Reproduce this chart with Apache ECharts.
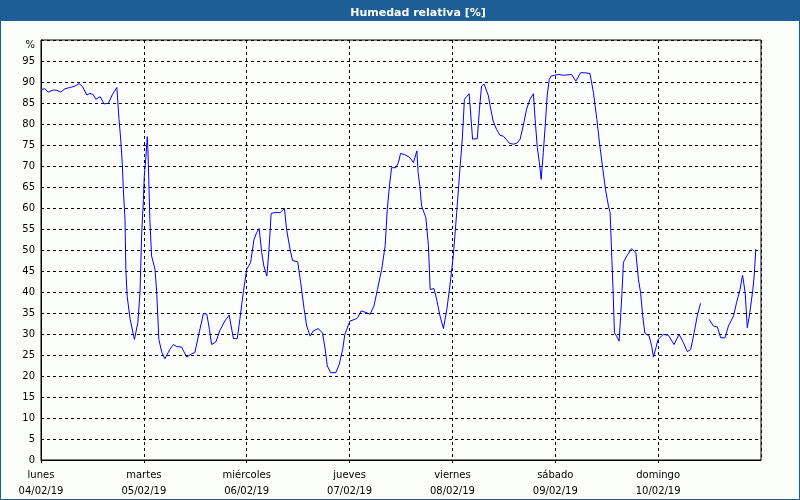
<!DOCTYPE html>
<html><head><meta charset="utf-8">
<script src="https://cdn.jsdelivr.net/npm/echarts@6/dist/echarts.min.js"></script>
<style>html,body{margin:0;padding:0;background:#fcfefc}#c{width:800px;height:500px}</style>
</head><body><div id="c"></div>
<script>
const titleText = 'Humedad relativa [%]';
const dayNames = ['lunes','martes','miércoles','jueves','viernes','sábado','domingo'];
const dayDates = ['04/02/19','05/02/19','06/02/19','07/02/19','08/02/19','09/02/19','10/02/19'];
const yMax = 100;
// hours since 04/02/19 00:00
const hours = [
0,0.9,1.7,2.9,3.7,4.6,5.6,6.8,7.9,8.9,9.7,10.7,11.4,12.2,12.8,13.8,14.7,15.7,16.7,17.7,18.2,18.6,19.0,19.2,19.6,19.8,20.1,20.8,21.8,22.6,23.1,23.5,23.9,
24.1,24.5,24.7,24.8,25.0,25.4,25.8,26.6,27.0,27.5,28.2,28.9,30.1,30.9,31.7,32.8,34.0,35.2,35.9,36.9,37.9,38.7,39.3,39.8,40.8,41.8,42.9,43.9,44.9,45.8,46.4,47.2,
48.0,48.9,49.7,50.3,50.9,51.5,52.0,52.7,53.2,53.7,54.6,55.8,56.8,57.3,58.1,58.7,59.9,60.6,61.4,62.0,62.8,63.5,64.7,65.7,66.3,66.8,67.6,68.8,69.6,70.4,70.9,
72.1,73.3,73.9,74.7,75.6,76.8,77.7,78.5,79.5,80.3,80.8,81.3,81.8,82.8,83.4,83.9,84.9,86.1,86.9,87.7,88.0,88.4,88.8,89.8,90.4,90.8,91.7,92.3,93.1,93.9,94.7,95.4,
96.2,97.0,97.8,98.3,98.8,99.3,99.9,100.3,100.7,101.1,101.8,102.3,102.8,103.4,103.8,104.4,104.8,105.5,106.3,107.1,107.9,108.5,109.3,110.2,111.0,111.8,112.5,113.3,114.1,114.9,115.3,115.8,116.3,116.7,117.2,117.7,118.1,118.6,119.0,119.9,
120.7,121.9,123.8,124.8,125.9,126.9,128.1,128.9,129.7,130.4,131.1,131.7,132.4,132.8,133.2,133.5,133.8,134.3,134.9,135.3,135.6,135.9,136.7,137.8,138.8,139.4,139.9,140.4,140.9,141.9,142.5,142.9,143.5,
144.0,145.2,146.4,147.7,148.9,149.9,150.8,151.6,152.4,153.2,153.9,155.0,155.9,156.9,157.8,158.6,159.6,160.4,161.6,162.3,163.1,163.7,164.3,164.8,165.4,166.1,166.4,166.8
];
const humidity = [
88.2,88.4,87.6,88.1,88.0,87.6,88.4,88.7,89.0,89.6,88.9,86.9,87.3,87.0,85.9,86.5,84.8,84.9,87.1,88.7,81.1,76.4,70.0,64.5,57.3,45.4,39.0,33.5,28.7,32.7,39.9,54.1,62.0,
67.6,72.4,75.6,77.0,72.4,57.3,48.6,45.4,39.9,28.7,25.6,24.1,26.4,27.5,27.0,26.9,24.5,25.3,25.6,30.3,34.9,34.7,31.1,27.5,28.1,31.0,33.1,34.5,28.9,28.9,33.5,39.9,
45.4,47.0,52.5,54.1,55.1,49.4,46.2,43.8,50.2,58.7,58.9,58.9,59.9,54.9,50.2,47.5,47.2,42.2,35.9,31.9,29.5,30.7,31.3,30.2,26.4,22.4,20.8,20.8,22.8,26.4,29.9,
33.1,33.5,33.9,35.5,35.2,34.7,36.7,40.6,45.4,51.0,59.7,65.2,69.6,69.6,70.8,73.0,72.7,72.0,70.8,73.6,68.4,65.2,60.5,57.7,51.0,40.6,40.8,38.3,34.3,31.3,35.9,41.4,
48.6,58.9,70.0,76.4,85.9,86.5,87.2,81.9,76.4,76.2,76.5,83.5,89.0,89.5,89.9,86.7,84.3,80.7,78.7,77.3,77.1,76.4,75.4,75.2,75.4,76.4,79.5,83.5,85.9,87.2,81.1,74.4,70.8,66.8,73.2,80.3,86.7,90.6,91.4,91.6,
91.8,91.6,91.8,90.2,92.2,92.2,92.0,87.5,81.1,74.8,69.2,64.5,60.5,58.9,47.8,39.9,30.3,29.5,28.3,35.1,40.6,47.1,48.6,50.3,49.4,43.0,39.9,34.3,30.2,29.5,27.1,24.5,26.8,
28.7,29.9,29.7,27.5,29.9,27.9,25.8,26.3,30.3,34.7,37.3,null,33.5,31.9,31.7,29.1,29.1,31.9,34.3,37.5,40.6,44.0,39.9,31.5,35.1,40.6,43.8,50.2
];

const data = hours.map((h, i) => [h, humidity[i] === null ? '-' : humidity[i]]);
const chart = echarts.init(document.getElementById('c'), null, {renderer: 'canvas'});
const FONT = 'DejaVu Sans';
const frameColor = '#1d5f95';
chart.setOption({
  backgroundColor: '#fcfefc',
  animation: false,
  title: {
    text: titleText, left: 413, textAlign: 'center', top: 3,
    textStyle: {color: '#ffffff', fontFamily: FONT, fontWeight: 'bold', fontSize: 11}
  },
  graphic: [
    {type: 'rect', z: -1, shape: {x: 0, y: 0, width: 800, height: 21}, style: {fill: frameColor}},
    {type: 'rect', z: 100, shape: {x: 0.5, y: 0.5, width: 799, height: 499}, style: {fill: null, stroke: frameColor, lineWidth: 1}}
  ],
  grid: {left: 41, right: 39, top: 40, bottom: 40, show: true, borderColor: '#000', borderWidth: 1, backgroundColor: 'transparent'},
  xAxis: {
    type: 'value', min: 0, max: 168, interval: 24,
    axisLine: {show: true, lineStyle: {color: '#000', width: 1}},
    axisTick: {show: true, length: 3, lineStyle: {color: '#000'}},
    splitLine: {show: true, lineStyle: {color: '#000', type: [3, 3], width: 1}},
    axisLabel: {
      color: '#000', fontFamily: FONT, fontSize: 10, lineHeight: 16, margin: 7,
      showMaxLabel: false,
      formatter: v => { const i = Math.round(v / 24); return i < 7 ? dayNames[i] + '\n' + dayDates[i] : ''; }
    }
  },
  yAxis: {
    type: 'value', min: 0, max: yMax, interval: 5,
    axisLine: {show: true, lineStyle: {color: '#000', width: 1}},
    axisTick: {show: false},
    splitLine: {show: true, lineStyle: {color: '#000', type: [3, 3], width: 1}},
    axisLabel: {
      color: '#000', fontFamily: FONT, fontSize: 10, margin: 6,
      formatter: v => v === yMax ? '{u|%}' : String(v),
      rich: {u: {fontFamily: FONT, fontSize: 10, color: '#000', padding: [10, 0, 0, 0]}}
    }
  },
  series: [{
    type: 'line', data: data, showSymbol: false, symbol: 'none', connectNulls: false,
    lineStyle: {color: '#0000ff', width: 1}, z: 5
  }]
});
</script></body></html>
